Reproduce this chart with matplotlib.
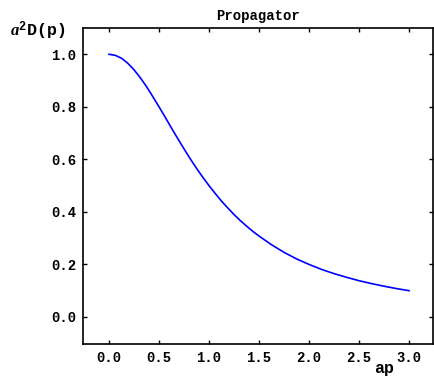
import numpy as np
from matplotlib import pyplot as plt

# values
ap = [0.0, 0.0625, 0.125, 0.1875, 0.25, 0.3125, 0.375, 0.4375, 0.5, 0.5625, 0.625,
      0.6875, 0.75, 0.8125, 0.875, 0.9375, 1.0, 1.0625, 1.125, 1.1875, 1.25, 1.3125,
      1.375, 1.4375, 1.5, 1.625, 1.75, 1.875, 2.0, 2.125, 2.25, 2.375, 2.5, 2.625,
      2.75, 2.875, 3.0]
d = [1.000, 0.996, 0.985, 0.966, 0.941, 0.911, 0.877, 0.839, 0.800, 0.760, 0.719,
     0.679, 0.640, 0.602, 0.566, 0.532, 0.500, 0.470, 0.441, 0.415, 0.390, 0.367,
     0.346, 0.326, 0.308, 0.275, 0.246, 0.221, 0.200, 0.181, 0.165, 0.151, 0.138, 0.127,
     0.117, 0.108, 0.100]
xticks = [0.0, 0.5, 1.0, 1.5, 2.0, 2.5, 3.0]
yticks = [0.0, 0.2, 0.4, 0.6, 0.8, 1.0]

plt.rcParams["mathtext.fontset"] = "custom"
plt.rcParams["mathtext.it"] = "Liberation Serif:italic:bold"
plt.rcParams["mathtext.bf"] = "Liberation Mono:bold"
plt.rcParams["mathtext.rm"] = "Liberation Mono:bold"

font = {"family": "Liberation Mono", "weight": "bold", "size": 10}

fig = plt.figure(figsize=(4.35, 3.76), dpi=100)
ax = fig.add_axes([83 / 435, 32 / 376, 350 / 435, 316 / 376])

ax.plot(ap, d, color="blue", lw=1.2)
ax.set_xlim(-0.26, 3.24)
ax.set_ylim(-0.103, 1.1)

ax.set_xticks(xticks)
ax.set_xticklabels([f"{v:.1f}" for v in xticks], fontdict=font)
ax.set_yticks(yticks)
ax.set_yticklabels([f"{v:.1f}" for v in yticks], fontdict=font)
ax.tick_params(direction="in", length=3, width=1, top=True, right=True, pad=5)
for s in ax.spines.values():
    s.set_linewidth(1.2)

ax.set_title("Propagator", fontdict=font, pad=6)
fig.text(10 / 435, 1 - 31 / 376, r"$a^{\mathbf{2}}$D(p)", fontdict={**font, "size": 12},
         va="center", ha="left")
fig.text(384 / 435, 1 - 368 / 376, "ap", fontdict={**font, "size": 12}, va="center", ha="center")

fig.savefig("out.png", dpi=100)
